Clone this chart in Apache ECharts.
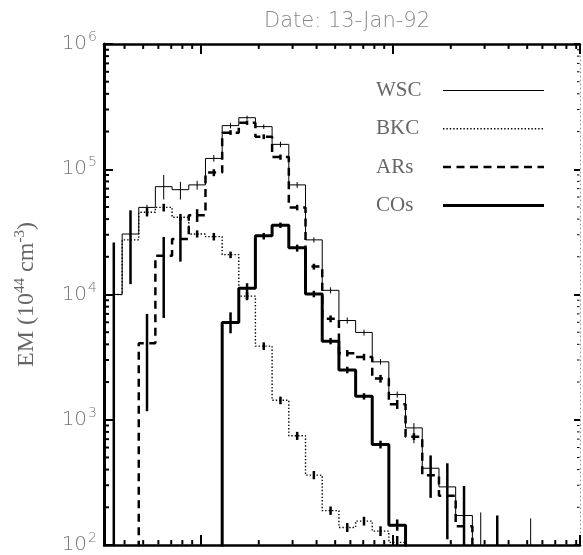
<!DOCTYPE html>
<html>
<head>
<meta charset="utf-8">
<script src="https://cdn.jsdelivr.net/npm/echarts@6.0.0/dist/echarts.min.js"></script>
<style>
  html, body { margin: 0; padding: 0; background: #fff; }
  #chart { width: 583px; height: 555px; }
</style>
</head>
<body>
<div id="chart"></div>
<script>
// bin centres, log10 T (K)
const logT = [5.546, 5.633, 5.719, 5.806, 5.893, 5.980, 6.067, 6.154, 6.240, 6.327,
  6.414, 6.501, 6.588, 6.675, 6.762, 6.849, 6.935, 7.022, 7.109, 7.196,
  7.283, 7.370, 7.457, 7.543, 7.630, 7.717, 7.804, 7.891]

// emission measure per bin, 1e44 cm^-3 (null = below the plot)
const wsc = [1.0e4, 3.04e4, 4.96e4, 7.26e4, 6.87e4, 7.5e4, 1.22e5, 2.23e5, 2.58e5, 2.19e5,
  1.58e5, 7.5e4, 2.73e4, 1.08e4, 6.2e3, 4.98e3, 2.9e3, 1.59e3, 861, 410,
  291, 172, null, null, null, null, null, null]
const bkc = [1.0e4, 2.73e4, 4.53e4, 4.96e4, 4.14e4, 3.04e4, 2.9e4, 2.08e4, 9.7e3, 3.87e3,
  1.43e3, 745, 361, 188, 138, 155, 129, 105, null, null,
  null, null, null, null, null, null, null, null]
const ars = [null, null, 4.08e3, 2.04e4, 2.78e4, 4.29e4, 9.4e4, 1.96e5, 2.35e5, 1.82e5,
  1.25e5, 4.96e4, 1.67e4, 6.4e3, 3.4e3, 3.17e3, 2.13e3, 1.33e3, 731, 361,
  247, 141, null, null, null, null, null, null]
const cos = [null, null, null, null, null, null, null, 5.97e3, 1.12e4, 2.94e4,
  3.58e4, 2.36e4, 1.01e4, 4.24e3, 2.5e3, 1.54e3, 634, 144, null, null,
  null, null, null, null, null, null, null, null]

// error bars [low, high] per bin
const wscErr = [null, [2.9e4, 3.2e4], [4.75e4, 5.2e4], [5.73e4, 9.0e4], [5.73e4, 7.94e4],
  [6.87e4, 8.1e4], [1.15e5, 1.3e5], [2.12e5, 2.35e5], [2.48e5, 2.68e5], [2.1e5, 2.28e5],
  [1.5e5, 1.66e5], [7.1e4, 7.9e4], [2.6e4, 2.86e4], [1.02e4, 1.14e4], [5.85e3, 6.55e3],
  [4.7e3, 5.25e3], [2.75e3, 3.05e3], [1.5e3, 1.68e3], [650, 940], [330, 490],
  [220, 360], [110, 240], [20, 182], null, null, [20, 163], null, null]
const bkcErr = [[20, 2.6e4], [1.21e4, 4.7e4], [4.2e4, 4.9e4], [4.6e4, 5.3e4], [3.9e4, 4.4e4],
  [2.85e4, 3.25e4], [2.7e4, 3.1e4], [1.95e4, 2.2e4], [9.0e3, 1.04e4], [3.6e3, 4.15e3],
  [1.33e3, 1.53e3], [690, 800], [335, 390], [174, 203], [127, 150],
  [143, 168], [118, 141], [95, 118], null, null,
  null, null, null, null, null, null, null, null]
const arsErr = [null, null, [1.17e3, 7.0e3], [6.5e3, 2.88e4], [1.83e4, 4.14e4],
  [3.8e4, 4.8e4], [8.8e4, 1.0e5], [1.88e5, 2.05e5], [2.26e5, 2.45e5], [1.74e5, 1.9e5],
  [1.19e5, 1.31e5], [4.7e4, 5.2e4], [1.58e4, 1.76e4], [6.0e3, 6.8e3], [3.2e3, 3.6e3],
  [2.98e3, 3.36e3], [1.98e3, 2.28e3], [1.22e3, 1.44e3], [690, 780], [238, 519],
  [111, 449], [20, 296], null, [20, 172], null, null, null, null]
const cosErr = [null, null, null, null, null, null, null, [4.9e3, 7.2e3], [9.2e3, 1.23e4],
  [2.75e4, 3.1e4], [3.4e4, 3.75e4], [2.2e4, 2.5e4], [9.5e3, 1.07e4], [4.0e3, 4.5e3],
  [2.35e3, 2.65e3], [1.45e3, 1.63e3], [590, 680], [130, 160], null, null,
  null, null, null, null, null, null, null, null]

const X_MIN = 5.495, X_MAX = 7.974   // log10 T at the frame edges
const Y_MIN = 2, Y_MAX = 6           // log10 EM
const FLOOR = 1                      // below the frame, gets clipped

// minor log tick positions (2..9 in every decade)
const xMinor = [], yMinor = []
for (let d = 5; d < 8; d++) for (let k = 2; k <= 9; k++) {
  const v = d + Math.log10(k)
  if (v > X_MIN && v < X_MAX) xMinor.push(v)
}
for (let d = 2; d < 6; d++) for (let k = 2; k <= 9; k++) yMinor.push(d + Math.log10(k))

// histogram steps, first bin is half wide like IDL psym=10
function steps(vals) {
  const pts = []
  const n = vals.length
  for (let i = 0; i < n; i++) {
    if (vals[i] == null) continue
    const y = Math.log10(vals[i])
    const left = i === 0 ? logT[0] : (logT[i - 1] + logT[i]) / 2
    const right = i === n - 1 ? logT[i] : (logT[i] + logT[i + 1]) / 2
    if (i > 0 && vals[i - 1] == null) pts.push([left, FLOOR])
    pts.push([left, y], [right, y])
    if (i < n - 1 && vals[i + 1] == null) pts.push([right, FLOOR])
  }
  return pts
}

function stepLine(name, vals, lineStyle) {
  return {
    name,
    type: 'line',
    data: steps(vals),
    symbol: 'none',
    clip: true,
    silent: true,
    z: 3,
    itemStyle: { color: '#000' },
    lineStyle: Object.assign({ color: '#000' }, lineStyle)
  }
}

// segments [xa, ya, xb, yb, width] in data space
function segSeries(data, clip) {
  return {
    type: 'custom',
    clip,
    silent: true,
    z: 4,
    encode: { x: [0, 2], y: [1, 3] },
    data,
    renderItem(params, api) {
      const a = api.coord([api.value(0), api.value(1)])
      const b = api.coord([api.value(2), api.value(3)])
      return {
        type: 'line',
        shape: { x1: a[0], y1: a[1], x2: b[0], y2: b[1] },
        style: { stroke: '#000', lineWidth: api.value(4) }
      }
    }
  }
}

const errSegs = []
;[[wscErr, 1], [bkcErr, 2.5], [arsErr, 2.5], [cosErr, 2.5]].forEach(([errs, w]) => {
  errs.forEach((e, i) => {
    if (e) errSegs.push([logT[i], Math.log10(e[0]), logT[i], Math.log10(e[1]), w])
  })
})

// minor ticks, 5 px inward (converted to data units)
const pxX = (X_MAX - X_MIN) / 476, pxY = (Y_MAX - Y_MIN) / 509
const minorSegs = []
xMinor.forEach(v => minorSegs.push(
  [v, Y_MIN + 0.5 * pxY, v, Y_MIN + 5 * pxY, 2], [v, Y_MAX - 0.5 * pxY, v, Y_MAX - 5 * pxY, 2]))
yMinor.forEach(v => minorSegs.push(
  [X_MIN + 0.5 * pxX, v, X_MIN + 5 * pxX, v, 2], [X_MAX - 0.5 * pxX, v, X_MAX - 3 * pxX, v, 1]))

const labelFont = '"DejaVu Sans", sans-serif'
const serif = '"Liberation Serif", serif'

// log axes only used to place the decade ticks on the frame
function decadeAxis(position) {
  return {
    type: 'log', logBase: 10, min: Math.pow(10, X_MIN), max: Math.pow(10, X_MAX), position,
    axisLine: { show: false },
    axisTick: { show: true, inside: true, length: 10, lineStyle: { color: '#000', width: 2 } },
    axisLabel: { show: false }, splitLine: { show: false }
  }
}

const chart = echarts.init(document.getElementById('chart'), null, { renderer: 'canvas' })
chart.setOption({
  backgroundColor: '#fff',
  animation: false,
  title: {
    text: 'Date: 13-Jan-92',
    left: 342,
    top: 6,
    textAlign: 'center',
    textStyle: { fontFamily: labelFont, fontWeight: 200, fontSize: 21, color: '#888' }
  },
  legend: {
    data: ['WSC', 'BKC', 'ARs', 'COs'],
    orient: 'vertical',
    left: 371,
    top: 75,
    align: 'right',
    itemWidth: 101,
    itemHeight: 14,
    itemGap: 17.3,
    selectedMode: false,
    itemStyle: { opacity: 0 },
    lineStyle: { width: 'inherit' },
    formatter: n => '{a|' + n + '}',
    textStyle: {
      rich: {
        a: { width: 62, align: 'left', fontFamily: serif, fontSize: 21, lineHeight: 20, color: '#666' }
      }
    }
  },
  grid: { left: 104, right: 3, top: 44, bottom: 2, containLabel: false },
  xAxis: [
    {
      type: 'value', min: X_MIN, max: X_MAX, position: 'bottom',
      axisLine: { onZero: false, lineStyle: { color: '#000', width: 2.5 } },
      axisTick: { show: false }, axisLabel: { show: false }, splitLine: { show: false }
    },
    {
      type: 'value', min: X_MIN, max: X_MAX, position: 'top',
      axisLine: { onZero: false, lineStyle: { color: '#000', width: 2.5 } },
      axisTick: { show: false }, axisLabel: { show: false }, splitLine: { show: false }
    },
    decadeAxis('bottom'),
    decadeAxis('top')
  ],
  yAxis: [
    {
      type: 'value', min: Y_MIN, max: Y_MAX, interval: 1, position: 'left',
      axisLine: { onZero: false, lineStyle: { color: '#000', width: 3 } },
      axisTick: { show: true, inside: true, length: 9, lineStyle: { color: '#000', width: 2 } },
      splitLine: { show: false },
      axisLabel: {
        margin: 7,
        formatter: v => '{b|10}{s|' + v + '}',
        rich: {
          b: { fontFamily: labelFont, fontWeight: 200, fontSize: 20, color: '#777' },
          s: { fontFamily: labelFont, fontWeight: 200, fontSize: 14, color: '#777', padding: [0, 0, 13, 1] }
        }
      },
      name: '{r|EM (10}{u|44}{r| cm}{u|-3}{r|)}',
      nameLocation: 'middle',
      nameRotate: 90,
      nameGap: 64,
      nameTextStyle: {
        rich: {
          r: { fontFamily: serif, fontSize: 24, color: '#666' },
          u: { fontFamily: serif, fontSize: 15, color: '#666', padding: [0, 0, 12, 0] }
        }
      }
    },
    {
      type: 'value', min: Y_MIN, max: Y_MAX, interval: 1, position: 'right',
      axisLine: { onZero: false, lineStyle: { color: '#999', width: 1, type: [1, 3] } },
      axisTick: { show: true, inside: true, length: 6, lineStyle: { color: '#000', width: 2 } },
      axisLabel: { show: false }, splitLine: { show: false }
    }
  ],
  series: [
    stepLine('WSC', wsc, { width: 1 }),
    stepLine('BKC', bkc, { width: 1.4, type: [1.4, 2] }),
    stepLine('ARs', ars, { width: 2.5, type: [8, 5.5] }),
    stepLine('COs', cos, { width: 3 }),
    segSeries(errSegs, true),
    segSeries(minorSegs, false)
  ]
})
</script>
</body>
</html>
